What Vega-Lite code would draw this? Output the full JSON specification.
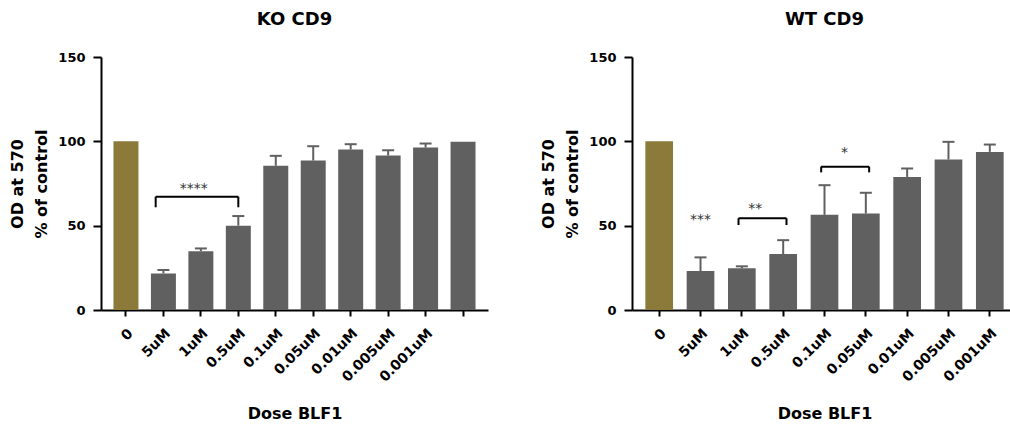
{
  "$schema": "https://vega.github.io/schema/vega-lite/v6.json",
  "background": "white",
  "padding": {"left": 9, "top": 11, "right": 0, "bottom": 0},
  "config": {
    "font": "DejaVu Sans",
    "view": {"stroke": null},
    "axis": {
      "domainColor": "black",
      "domainWidth": 2,
      "tickColor": "black",
      "tickWidth": 2,
      "labelColor": "black",
      "labelFont": "DejaVu Sans",
      "labelFontWeight": "bold",
      "titleColor": "black",
      "titleFont": "DejaVu Sans",
      "titleFontWeight": "bold",
      "grid": false
    },
    "title": {"font": "DejaVu Sans", "fontWeight": "bold", "fontSize": 18, "color": "black", "frame": "group", "offset": 22}
  },
  "datasets": {
    "ko": [
      {"dose": "0", "group": "control", "value": 100, "upper": null},
      {"dose": "5uM", "group": "treated", "value": 21.7, "upper": 23.7},
      {"dose": "1uM", "group": "treated", "value": 34.9, "upper": 36.5},
      {"dose": "0.5uM", "group": "treated", "value": 50, "upper": 55.7},
      {"dose": "0.1uM", "group": "treated", "value": 85.5, "upper": 91.4},
      {"dose": "0.05uM", "group": "treated", "value": 88.6, "upper": 97.1},
      {"dose": "0.01uM", "group": "treated", "value": 95.1, "upper": 98.3},
      {"dose": "0.005uM", "group": "treated", "value": 91.6, "upper": 94.7},
      {"dose": "0.001uM", "group": "treated", "value": 96.3, "upper": 98.7},
      {"dose": "", "group": "treated", "value": 99.8, "upper": null}
    ],
    "wt": [
      {"dose": "0", "group": "control", "value": 100, "upper": null},
      {"dose": "5uM", "group": "treated", "value": 23.1, "upper": 31.2},
      {"dose": "1uM", "group": "treated", "value": 24.7, "upper": 25.9},
      {"dose": "0.5uM", "group": "treated", "value": 33.2, "upper": 41.4},
      {"dose": "0.1uM", "group": "treated", "value": 56.4, "upper": 74.0},
      {"dose": "0.05uM", "group": "treated", "value": 57.2, "upper": 69.5},
      {"dose": "0.01uM", "group": "treated", "value": 78.9, "upper": 83.9},
      {"dose": "0.005uM", "group": "treated", "value": 89.2, "upper": 99.7},
      {"dose": "0.001uM", "group": "treated", "value": 93.75, "upper": 98.1}
    ],
    "ko_sig": [
      {"from": "5uM", "to": "0.5uM", "y": 67.2, "low": 60.9, "stars": "****", "at": "1uM", "starY": 69.5}
    ],
    "wt_sig": [
      {"from": "1uM", "to": "0.5uM", "y": 54.4, "low": 50.4, "stars": "**", "at": "1uM", "starY": 57.3},
      {"from": "0.1uM", "to": "0.05uM", "y": 85.0, "low": 81.6, "stars": "*", "at": "0.1uM", "starY": 91.0}
    ],
    "wt_single": [
      {"stars": "***", "at": "5uM", "starY": 50.8}
    ]
  },
  "spacing": 144,
  "bounds": "flush",
  "hconcat": [
    {
      "width": 387,
      "height": 253,
      "title": {"text": "KO CD9"},
      "layer": [
        {
          "data": {"name": "ko"},
          "mark": {"type": "bar"},
          "encoding": {
            "x": {
              "field": "dose", "type": "nominal",
              "scale": {"domain": ["0", "5uM", "1uM", "0.5uM", "0.1uM", "0.05uM", "0.01uM", "0.005uM", "0.001uM", ""], "paddingInner": 0.333, "paddingOuter": 0.333},
              "axis": {"title": "Dose BLF1", "labelAngle": -45, "labelFontSize": 14, "tickSize": 6, "labelPadding": 10, "titleFontSize": 16, "titlePadding": 21}
            },
            "y": {
              "field": "value", "type": "quantitative",
              "scale": {"domain": [0, 150], "nice": false},
              "axis": {"title": ["OD at 570", "% of control"], "values": [0, 50, 100, 150], "labelFontSize": 13, "tickSize": 8, "labelPadding": 8, "titleFontSize": 16, "titleLineHeight": 24, "titlePadding": 8}
            },
            "color": {"field": "group", "type": "nominal", "scale": {"domain": ["control", "treated"], "range": ["#8b7a3a", "#606060"]}, "legend": null}
          }
        },
        {
          "data": {"name": "ko"},
          "transform": [{"filter": "isValid(datum.upper)"}],
          "mark": {"type": "rule", "color": "#606060", "strokeWidth": 2},
          "encoding": {
            "x": {"field": "dose", "type": "nominal"},
            "y": {"field": "value", "type": "quantitative"},
            "y2": {"field": "upper"}
          }
        },
        {
          "data": {"name": "ko"},
          "transform": [{"filter": "isValid(datum.upper)"}],
          "mark": {"type": "tick", "color": "#606060", "thickness": 2, "size": 12, "opacity": 1},
          "encoding": {
            "x": {"field": "dose", "type": "nominal"},
            "y": {"field": "upper", "type": "quantitative"}
          }
        },
        {
          "data": {"name": "ko_sig"},
          "mark": {"type": "rule", "color": "black", "strokeWidth": 2},
          "encoding": {
            "x": {"field": "from", "type": "nominal", "bandPosition": 0.19},
            "x2": {"field": "to", "bandPosition": 0.5},
            "y": {"field": "y", "type": "quantitative"}
          }
        },
        {
          "data": {"name": "ko_sig"},
          "mark": {"type": "rule", "color": "black", "strokeWidth": 2},
          "encoding": {
            "x": {"field": "from", "type": "nominal", "bandPosition": 0.19},
            "y": {"field": "y", "type": "quantitative"},
            "y2": {"field": "low"}
          }
        },
        {
          "data": {"name": "ko_sig"},
          "mark": {"type": "rule", "color": "black", "strokeWidth": 2},
          "encoding": {
            "x": {"field": "to", "type": "nominal", "bandPosition": 0.5},
            "y": {"field": "y", "type": "quantitative"},
            "y2": {"field": "low"}
          }
        },
        {
          "data": {"name": "ko_sig"},
          "mark": {"type": "text", "fontSize": 14, "color": "#333333", "baseline": "alphabetic"},
          "encoding": {
            "x": {"field": "at", "type": "nominal", "bandPosition": 0.22},
            "y": {"field": "starY", "type": "quantitative"},
            "text": {"field": "stars"}
          }
        }
      ]
    },
    {
      "width": 385,
      "height": 253,
      "title": {"text": "WT CD9"},
      "layer": [
        {
          "data": {"name": "wt"},
          "mark": {"type": "bar"},
          "encoding": {
            "x": {
              "field": "dose", "type": "nominal",
              "scale": {"domain": ["0", "5uM", "1uM", "0.5uM", "0.1uM", "0.05uM", "0.01uM", "0.005uM", "0.001uM"], "paddingInner": 0.33, "paddingOuter": 0.323},
              "axis": {"title": "Dose BLF1", "labelAngle": -45, "labelFontSize": 14, "tickSize": 6, "labelPadding": 10, "titleFontSize": 16, "titlePadding": 21}
            },
            "y": {
              "field": "value", "type": "quantitative",
              "scale": {"domain": [0, 150], "nice": false},
              "axis": {"title": ["OD at 570", "% of control"], "values": [0, 50, 100, 150], "labelFontSize": 13, "tickSize": 8, "labelPadding": 8, "titleFontSize": 16, "titleLineHeight": 24, "titlePadding": 8}
            },
            "color": {"field": "group", "type": "nominal", "scale": {"domain": ["control", "treated"], "range": ["#8b7a3a", "#606060"]}, "legend": null}
          }
        },
        {
          "data": {"name": "wt"},
          "transform": [{"filter": "isValid(datum.upper)"}],
          "mark": {"type": "rule", "color": "#606060", "strokeWidth": 2},
          "encoding": {
            "x": {"field": "dose", "type": "nominal"},
            "y": {"field": "value", "type": "quantitative"},
            "y2": {"field": "upper"}
          }
        },
        {
          "data": {"name": "wt"},
          "transform": [{"filter": "isValid(datum.upper)"}],
          "mark": {"type": "tick", "color": "#606060", "thickness": 2, "size": 12, "opacity": 1},
          "encoding": {
            "x": {"field": "dose", "type": "nominal"},
            "y": {"field": "upper", "type": "quantitative"}
          }
        },
        {
          "data": {"name": "wt_sig"},
          "mark": {"type": "rule", "color": "black", "strokeWidth": 2},
          "encoding": {
            "x": {"field": "from", "type": "nominal", "bandPosition": 0.38},
            "x2": {"field": "to", "bandPosition": 0.62},
            "y": {"field": "y", "type": "quantitative"}
          }
        },
        {
          "data": {"name": "wt_sig"},
          "mark": {"type": "rule", "color": "black", "strokeWidth": 2},
          "encoding": {
            "x": {"field": "from", "type": "nominal", "bandPosition": 0.38},
            "y": {"field": "y", "type": "quantitative"},
            "y2": {"field": "low"}
          }
        },
        {
          "data": {"name": "wt_sig"},
          "mark": {"type": "rule", "color": "black", "strokeWidth": 2},
          "encoding": {
            "x": {"field": "to", "type": "nominal", "bandPosition": 0.62},
            "y": {"field": "y", "type": "quantitative"},
            "y2": {"field": "low"}
          }
        },
        {
          "data": {"name": "wt_sig"},
          "transform": [{"filter": "datum.stars == '**'"}],
          "mark": {"type": "text", "fontSize": 14, "color": "#333333", "baseline": "alphabetic"},
          "encoding": {
            "x": {"field": "at", "type": "nominal", "bandPosition": 0.98},
            "y": {"field": "starY", "type": "quantitative"},
            "text": {"field": "stars"}
          }
        },
        {
          "data": {"name": "wt_sig"},
          "transform": [{"filter": "datum.stars == '*'"}],
          "mark": {"type": "text", "fontSize": 14, "color": "#333333", "baseline": "alphabetic"},
          "encoding": {
            "x": {"field": "at", "type": "nominal", "bandPosition": 1.22},
            "y": {"field": "starY", "type": "quantitative"},
            "text": {"field": "stars"}
          }
        },
        {
          "data": {"name": "wt_single"},
          "mark": {"type": "text", "fontSize": 14, "color": "#333333", "baseline": "alphabetic"},
          "encoding": {
            "x": {"field": "at", "type": "nominal", "bandPosition": 0.5},
            "y": {"field": "starY", "type": "quantitative"},
            "text": {"field": "stars"}
          }
        }
      ]
    }
  ]
}
